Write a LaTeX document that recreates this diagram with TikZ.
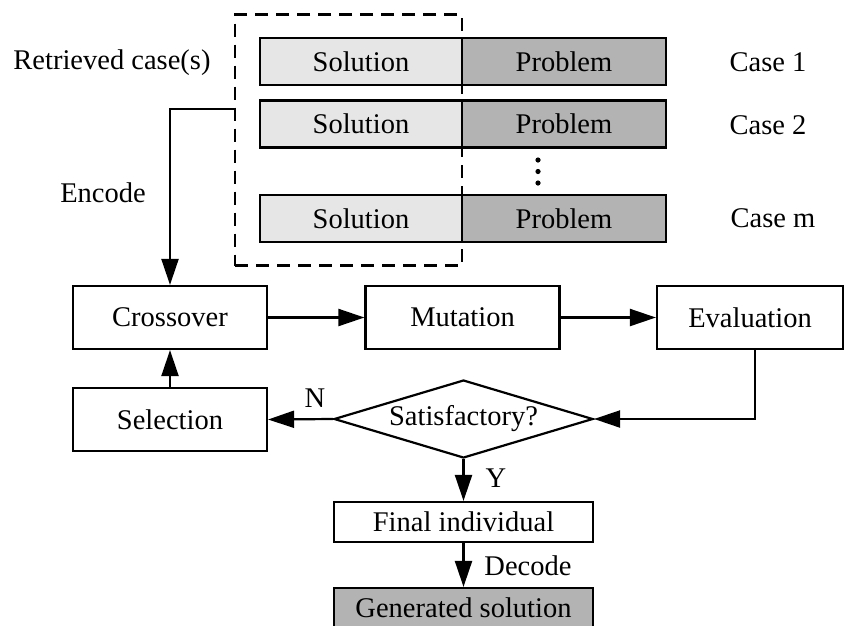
\documentclass[tikz,border=0pt]{standalone}
\usepackage{fontspec}
\setmainfont{Liberation Serif}
\usetikzlibrary{shapes.geometric,arrows.meta}
\definecolor{solfill}{HTML}{E6E6E6}
\definecolor{probfill}{HTML}{B3B3B3}
\tikzset{
  txt/.style={font=\fontsize{28.5}{31}\selectfont},
  box/.style={draw=black,line width=2.2pt,rectangle,inner sep=0pt,txt},
  solbox/.style={box,fill=solfill,minimum width=202pt,minimum height=47pt},
  probbox/.style={box,fill=probfill,minimum width=204pt,minimum height=47pt},
  stepbox/.style={box,fill=white,minimum width=194pt,minimum height=63pt},
  lbl/.style={txt,inner sep=0pt},
  arr/.style={line width=2.2pt,-{Triangle[length=26pt,width=17pt]}},
  dashedbox/.style={draw=black,line width=2.8pt,dash pattern=on 13pt off 8pt,rectangle,inner sep=0pt,minimum width=227pt,minimum height=251pt}
}
\begin{document}
\begin{tikzpicture}[x=1pt,y=-1pt]
\useasboundingbox (0,0) rectangle (845,625);
\clip (0,0) rectangle (845,625);
% retrieved cases
\node[solbox] (sol1) at (361,61.5) {Solution};
\node[probbox] (prob1) at (564,61.5) {Problem};
\node[solbox] (sol2) at (361,124) {Solution};
\node[probbox] (prob2) at (564,124) {Problem};
\node[solbox] (sol3) at (361,218.5) {Solution};
\node[probbox] (prob3) at (564,218.5) {Problem};
\fill (538,160) circle (2.6pt) (538,171.5) circle (2.6pt) (538,183) circle (2.6pt);
\node[lbl] (c1) at (768,62) {Case 1};
\node[lbl] (c2) at (768,125) {Case 2};
\node[lbl] (cm) at (773,218) {Case m};
\node[lbl] (retr) at (112,63) {Retrieved case(s)};
\node[dashedbox] (dbox) at (348.5,140) {};
\node[lbl] (enc) at (103,193) {Encode};
% GA loop
\node[stepbox] (cross) at (170,317.5) {Crossover};
\node[stepbox] (mut) at (462.5,317.5) {Mutation};
\node[stepbox,minimum width=186pt] (eval) at (750,317.5) {Evaluation};
\node[stepbox] (sel) at (170,419.5) {Selection};
\node[draw=black,line width=2.2pt,diamond,inner sep=0pt,minimum width=259pt,minimum height=78pt,aspect=3.3,txt] (sat) at (463.5,419) {Satisfactory?};
\node[box,minimum width=259pt,minimum height=40pt] (fin) at (463.5,522) {Final individual};
\node[box,fill=probfill,minimum width=259pt,minimum height=40pt] (gen) at (463.5,608) {Generated solution};
% connectors
\coordinate (encstart) at (235,109);
\draw[arr] (encstart) -| (cross.north);
\draw[arr] (cross.east) -- (mut.west);
\draw[arr] (mut.east) -- (eval.west);
\draw[arr] ([xshift=5pt]eval.south) |- (sat.east);
\draw[arr] (sat.west) -- (sel.east);
\draw[arr] (sel.north) -- (cross.south);
\draw[arr] (sat.south) -- (fin.north);
\draw[arr] (fin.south) -- (gen.north);
\node[lbl] (nl) at (315,398) {N};
\node[lbl] (yl) at (496,478) {Y};
\node[lbl] (dl) at (528,566) {Decode};
\end{tikzpicture}
\end{document}
